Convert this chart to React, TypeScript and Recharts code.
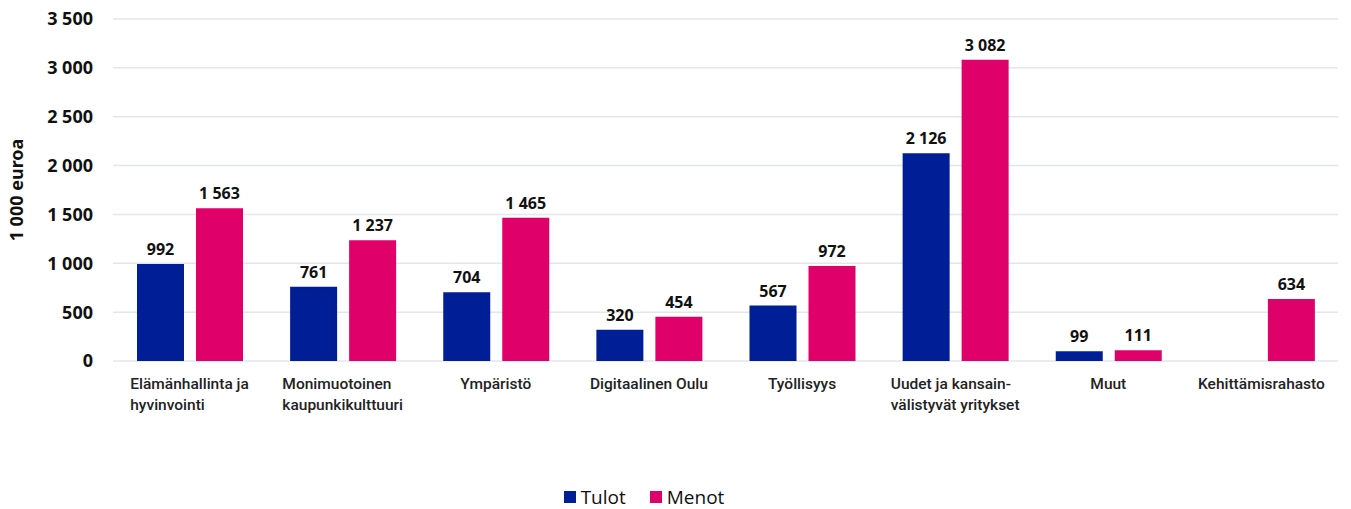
import { BarChart, Bar, XAxis, YAxis, CartesianGrid, LabelList } from 'recharts'

const categories = [
  'Elämänhallinta ja\nhyvinvointi',
  'Monimuotoinen\nkaupunkikulttuuri',
  'Ympäristö',
  'Digitaalinen Oulu',
  'Työllisyys',
  'Uudet ja kansain-\nvälistyvät yritykset',
  'Muut',
  'Kehittämisrahasto',
]
const tulot = [992, 761, 704, 320, 567, 2126, 99, null]
const menot = [1563, 1237, 1465, 454, 972, 3082, 111, 634]
const yTicks = [0, 500, 1000, 1500, 2000, 2500, 3000, 3500]

const BLUE = '#001E96'
const PINK = '#E0006A'

const data = categories.map((name, i) => ({ name, tulot: tulot[i], menot: menot[i] }))

const fmt = (v: any) =>
  v === null || v === undefined ? '' : String(v).replace(/\B(?=(\d{3})+(?!\d))/g, ' ')

const boldText = { fontFamily: 'Noto Sans, sans-serif', fontWeight: 700, fill: '#111' }

function CategoryTick({ x, y, payload }: any) {
  return (
    <foreignObject x={x - 100} y={y + 5} width={200} height={60}>
      <div
        style={{
          textAlign: 'center',
          fontFamily: 'Roboto, sans-serif',
          fontSize: 15.5,
          fontWeight: 500,
          lineHeight: '21px',
          color: '#222',
        }}
      >
        <span style={{ display: 'inline-block', textAlign: 'left', whiteSpace: 'pre-line' }}>
          {payload.value}
        </span>
      </div>
    </foreignObject>
  )
}

export default function App() {
  return (
    <div style={{ position: 'absolute', left: 0, top: 0, width: 1351, height: 509, background: '#fff' }}>
      <BarChart
        width={1351}
        height={440}
        data={data}
        margin={{ top: 19, right: 13, left: 0, bottom: 0 }}
        barSize={47}
        barGap={12}
      >
        <CartesianGrid vertical={false} stroke="#E3E6EC" strokeWidth={1.5} />
        <XAxis
          dataKey="name"
          axisLine={false}
          tickLine={false}
          interval={0}
          height={79}
          tick={<CategoryTick />}
        />
        <YAxis
          width={113}
          domain={[0, 3500]}
          ticks={yTicks}
          axisLine={false}
          tickLine={false}
          tickMargin={14}
          tickFormatter={fmt}
          tick={{ ...boldText, fontSize: 18 }}
          label={{
            value: '1 000 euroa',
            angle: -90,
            position: 'insideLeft',
            offset: 17,
            style: { ...boldText, fontSize: 18, textAnchor: 'middle' },
          }}
        />
        <Bar dataKey="tulot" fill={BLUE} isAnimationActive={false}>
          <LabelList
            dataKey="tulot"
            position="top"
            offset={9}
            formatter={fmt}
            style={{ ...boldText, fontSize: 16 }}
          />
        </Bar>
        <Bar dataKey="menot" fill={PINK} isAnimationActive={false}>
          <LabelList
            dataKey="menot"
            position="top"
            offset={9}
            formatter={fmt}
            style={{ ...boldText, fontSize: 16 }}
          />
        </Bar>
      </BarChart>
      <div
        style={{
          position: 'absolute',
          left: 0,
          top: 485,
          width: 1288,
          display: 'flex',
          justifyContent: 'center',
          gap: 24,
          fontFamily: 'Open Sans, sans-serif',
          fontSize: 19,
          color: '#111',
          lineHeight: '24px',
        }}
      >
        {[
          { label: 'Tulot', color: BLUE },
          { label: 'Menot', color: PINK },
        ].map((it) => (
          <span key={it.label} style={{ display: 'flex', alignItems: 'center' }}>
            <span style={{ width: 12, height: 12, background: it.color, marginRight: 5, display: 'inline-block' }} />
            {it.label}
          </span>
        ))}
      </div>
    </div>
  )
}
